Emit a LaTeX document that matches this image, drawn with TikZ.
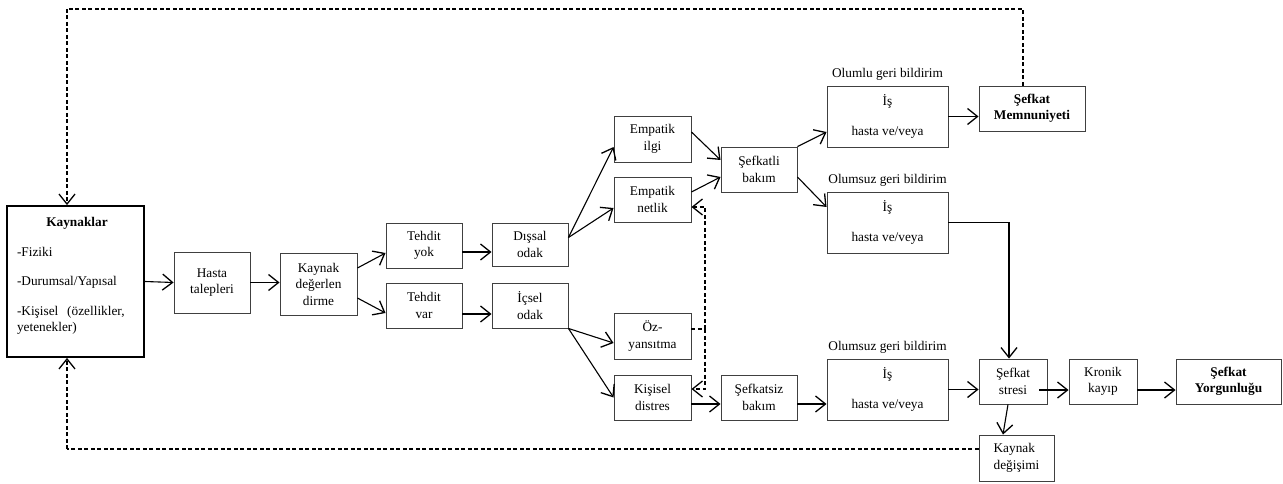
\documentclass[tikz,border=0pt]{standalone}
\usepackage{fontspec}
\setmainfont{Liberation Serif}
\usetikzlibrary{arrows.meta}
\begin{document}
\begin{tikzpicture}[x=1pt,y=-1pt,
  every node/.style={font=\fontsize{13.3}{16.5}\selectfont},
  box/.style={draw=black!75,line width=0.9pt,rectangle,inner sep=0pt,align=center},
  conn/.style={line width=1.1pt,-{Straight Barb[length=10pt,width=16pt,line width=1.3pt]}},
  dconn/.style={conn,dash pattern=on 4pt off 2.5pt},
  dline/.style={line width=1.1pt,dash pattern=on 4pt off 2.5pt},
  lbl/.style={anchor=south,inner sep=0pt}]
\useasboundingbox (0,0) rectangle (1283,484);
% boxes
\node[box,line width=1.8pt,draw=black,minimum width=137pt,minimum height=151pt] (kay) at (75.5,281.5) {};
\node[text width=122pt,align=left,inner sep=0pt] (kaytext) at (78,276)
  {\makebox[120pt]{\textbf{Kaynaklar}}\\[13pt]-Fiziki\\[13pt]-Durumsal/Yapısal\\[13pt]-Kişisel~~(özellikler,\\yetenekler)};
\node[box,minimum width=76pt,minimum height=61pt] (hasta) at (212,282.5) {Hasta\\talepleri};
\node[box,minimum width=77pt,minimum height=62pt] (kd) at (318.5,284) {Kaynak\\değerlen\\dirme};
\node[box,minimum width=76pt,minimum height=45pt] (ty) at (424,245.5) {Tehdit\\yok};
\node[box,minimum width=76pt,minimum height=45pt] (tv) at (424,305.5) {Tehdit\\var};
\node[box,minimum width=76pt,minimum height=43pt] (do) at (530,244.5) {Dışsal\\odak};
\node[box,minimum width=76pt,minimum height=45pt] (io) at (530,305.5) {İçsel\\odak};
\node[box,minimum width=77pt,minimum height=46pt] (ei) at (652.5,139) {Empatik\\ilgi};
\node[box,minimum width=77pt,minimum height=45pt] (en) at (652.5,199.5) {Empatik\\netlik};
\node[box,minimum width=76pt,minimum height=45pt] (sb) at (759,169.5) {Şefkatli\\bakım};
\node[box,minimum width=77pt,minimum height=46pt] (oz) at (652.5,336) {Öz-\\yansıtma};
\node[box,minimum width=77pt,minimum height=45pt] (kis) at (652.5,397.5) {Kişisel\\distres};
\node[box,minimum width=76pt,minimum height=45pt] (sfz) at (759,397.5) {Şefkatsiz\\bakım};
\node[box,minimum width=121pt,minimum height=61pt] (b1) at (887.5,116.5) {İş\\[13pt]hasta ve/veya};
\node[box,minimum width=121pt,minimum height=61pt] (b2) at (887.5,222.5) {İş\\[13pt]hasta ve/veya};
\node[box,minimum width=121pt,minimum height=61pt] (b3) at (887.5,389.5) {İş\\[13pt]hasta ve/veya};
\node[lbl] (l1) at ([yshift=5pt]b1.north) {Olumlu geri bildirim};
\node[lbl] (l2) at ([yshift=5pt]b2.north) {Olumsuz geri bildirim};
\node[lbl] (l3) at ([yshift=5pt]b3.north) {Olumsuz geri bildirim};
\node[box,minimum width=106pt,minimum height=45pt] (sm) at (1032,108.5) {\textbf{Şefkat}\\\textbf{Memnuniyeti}};
\node[box,minimum width=68pt,minimum height=45pt] (ss) at (1013,381.5) {Şefkat\\stresi};
\node[box,minimum width=68pt,minimum height=45pt] (kk) at (1103,381.5) {Kronik\\kayıp};
\node[box,minimum width=105pt,minimum height=45pt] (sy) at (1228.5,381.5) {\textbf{Şefkat}\\\textbf{Yorgunluğu}};
\node[box,minimum width=75pt,minimum height=46pt,align=left] (kd2) at (1016.5,458) {Kaynak\\değişimi};
% connectors
\draw[conn] (kay.east) -- (hasta.west);
\draw[conn] (hasta.east) -- (kd.west |- hasta.east);
\draw[conn] ([yshift=16pt]kd.east) -- ([yshift=-7.5pt]ty.west);
\draw[conn] ([yshift=-14pt]kd.east) -- ([yshift=-7.5pt]tv.west);
\draw[conn] ([yshift=-6.5pt]ty.east) -- ([yshift=-7.5pt]do.west);
\draw[conn] ([yshift=-8.5pt]tv.east) -- ([yshift=-8.5pt]io.west);
\draw[conn] ([yshift=7pt]do.east) -- ([yshift=-8pt]ei.west);
\draw[conn] ([yshift=7pt]do.east) -- ([yshift=-8.5pt]en.west);
\draw[conn] (io.south east) -- ([yshift=-7pt]oz.west);
\draw[conn] (io.south east) -- (kis.west);
\draw[conn] ([yshift=7pt]ei.east) -- ([yshift=9.5pt]sb.west);
\draw[conn] ([yshift=7.5pt]en.east) -- ([yshift=-7.5pt]sb.west);
\draw[conn] (sb.north east) -- ([yshift=-15.5pt]b1.west);
\draw[conn] ([yshift=-7.5pt]sb.east) -- ([yshift=15.5pt]b2.west);
\draw[conn] ([yshift=-6.5pt]kis.east) -- ([yshift=-6.5pt]sfz.west);
\draw[conn] ([yshift=-6.5pt]sfz.east) -- ([yshift=-14.5pt]b3.west);
\draw[conn] (b1.east) -- (sm.west |- b1.east);
\draw[conn] (b2.east) -| ([xshift=-4pt]ss.north);
\draw[conn] (b3.east) -- (ss.west |- b3.east);
\draw[conn] ([xshift=-8pt,yshift=-8.5pt]ss.east) -- ([yshift=-8.5pt]kk.west);
\draw[conn] ([yshift=-8.5pt]kk.east) -- ([yshift=-8.5pt]sy.west);
\draw[conn] ([xshift=-5pt]ss.south) -- ([xshift=-13.5pt]kd2.north);
% dashed feedback loops
\coordinate (tr) at (1023,9);
\coordinate (tl) at (67,9);
\coordinate (bl) at (67,449);
\coordinate (ozc) at (705,329);
\draw[dline] ([xshift=-9pt]sm.north) -- (tr) -- (tl);
\draw[dconn] (tl) -- ([xshift=-8.5pt]kay.north);
\draw[dline] ([yshift=9pt]kd2.west) -- (bl);
\draw[dconn] (bl) -- ([xshift=-8.5pt]kay.south);
\draw[dline] ([yshift=7pt]oz.east) -- (ozc);
\draw[dconn] (ozc) |- ([yshift=-7.5pt]en.east);
\draw[dconn] (ozc) |- ([yshift=8.5pt]kis.east);
\end{tikzpicture}
\end{document}
